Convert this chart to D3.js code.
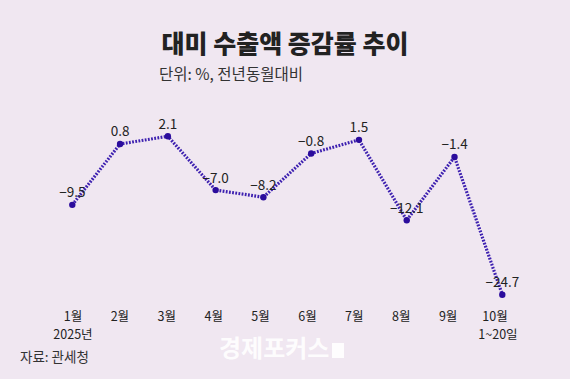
<!DOCTYPE html>
<html><head><meta charset="utf-8">
<script src="https://cdn.jsdelivr.net/npm/d3@7"></script>
<style>
html,body{margin:0;padding:0;background:#f0e7f1;}
svg{display:block;}
text{font-family:"Noto Sans CJK KR","Noto Sans",sans-serif;}
</style></head>
<body>
<script>
const months = ["1월","2월","3월","4월","5월","6월","7월","8월","9월","10월"];
const subLabels = ["2025년","","","","","","","","","1~20일"];
const values = [-9.5, 0.8, 2.1, -7.0, -8.2, -0.8, 1.5, -12.1, -1.4, -24.7];
const valueLabels = ["−9.5","0.8","2.1","−7.0","−8.2","−0.8","1.5","−12.1","−1.4","−24.7"];
const title = "대미 수출액 증감률 추이";
const subtitle = "단위: %, 전년동월대비";
const source = "자료: 관세청";
const watermark = "경제포커스";

const W = 570, H = 379;
const svg = d3.select("body").append("svg").attr("width", W).attr("height", H);
svg.append("rect").attr("width", W).attr("height", H).attr("fill", "#f0e7f1");

const x = d3.scalePoint().domain(months).range([72.3, 502.3]);
const xl = d3.scalePoint().domain(months).range([73, 495]);
const y = d3.scaleLinear().domain([-24.7, 2.1]).range([294.7, 136.3]);

svg.append("text").attr("x", 285).attr("y", 53).attr("text-anchor", "middle")
  .attr("font-size", 25).attr("font-weight", 800).attr("fill", "#222").text(title);
svg.append("text").attr("x", 159).attr("y", 80)
  .attr("font-size", 15.5).attr("fill", "#333").text(subtitle);

const line = d3.line().x((d, i) => x(months[i])).y(d => y(d));
svg.append("path").datum(values).attr("d", line).attr("fill", "none")
  .attr("stroke", "#3d20b0").attr("stroke-width", 3.2).attr("stroke-dasharray", "1.8,1.4");

svg.selectAll("circle.pt").data(values).join("circle").attr("class", "pt")
  .attr("cx", (d, i) => x(months[i])).attr("cy", d => y(d)).attr("r", 3.2).attr("fill", "#2b0c9c");

svg.selectAll("text.vl").data(values).join("text").attr("class", "vl")
  .attr("x", (d, i) => x(months[i])).attr("y", d => y(d) - 7.5)
  .attr("text-anchor", "middle").attr("font-size", 13.5).attr("fill", "#222")
  .text((d, i) => valueLabels[i]);

const ax = svg.append("g");
ax.selectAll("text.m").data(months).join("text").attr("class", "m")
  .attr("x", d => xl(d)).attr("y", 321).attr("text-anchor", "middle")
  .attr("font-size", 12.5).attr("fill", "#222").text(d => d);
ax.selectAll("text.s").data(months.filter((d, i) => subLabels[i] !== "")).join("text").attr("class", "s")
  .attr("x", d => xl(d) + (d === "10월" ? 3 : 0)).attr("y", 339).attr("text-anchor", "middle")
  .attr("font-size", 12.5).attr("fill", "#222").text(d => subLabels[months.indexOf(d)]);

svg.append("text").attr("x", 20).attr("y", 362).attr("font-size", 13.5).attr("fill", "#333").text(source);

svg.append("text").attr("x", 219).attr("y", 357).attr("font-size", 24).attr("font-weight", 700)
  .attr("fill", "#ffffff").attr("fill-opacity", 0.9).text(watermark);
svg.append("rect").attr("x", 332).attr("y", 343).attr("width", 12).attr("height", 15)
  .attr("fill", "#ffffff").attr("fill-opacity", 0.9);
</script>
</body></html>
